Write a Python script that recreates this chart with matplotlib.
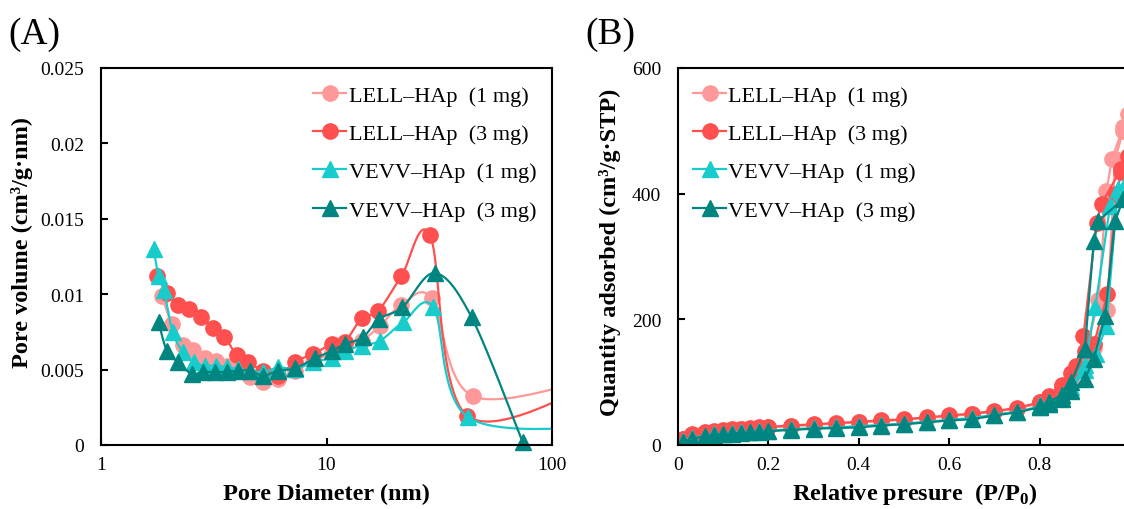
import numpy as np
import matplotlib
matplotlib.use('Agg')
import matplotlib.pyplot as plt
from matplotlib.lines import Line2D

plt.rcParams['font.family'] = ['Liberation Serif', 'DejaVu Serif']
plt.rcParams['mathtext.fontset'] = 'custom'
plt.rcParams['mathtext.rm'] = 'Liberation Serif'
plt.rcParams['mathtext.bf'] = 'Liberation Serif:bold'

names = ['LELL\u2013HAp  (1 mg)', 'LELL\u2013HAp  (3 mg)', 'VEVV\u2013HAp  (1 mg)', 'VEVV\u2013HAp  (3 mg)']
colors = ['#FF9999', '#FF4F4F', '#19CCCC', '#008580']
markers = ['o', 'o', '^', '^']

# (A) pore size distribution
d_l1 = [1.86, 2.06, 2.32, 2.57, 2.89, 3.24, 3.61, 4.06, 4.58, 5.24, 6.11, 7.25, 8.74, 10.55, 12.08, 14.3, 17.3, 21.5, 29.3, 44.8, 180]
v_l1 = [0.0099, 0.0080, 0.0066, 0.0063, 0.00575, 0.00555, 0.00526, 0.00493, 0.00449, 0.00416, 0.00438, 0.00493, 0.00552, 0.00615, 0.00659, 0.00692, 0.00791, 0.00928, 0.00973, 0.00323, 0.0047]
d_l3 = [1.77, 1.96, 2.2, 2.46, 2.77, 3.15, 3.52, 4.0, 4.5, 5.24, 6.11, 7.25, 8.74, 10.55, 12.08, 14.3, 16.98, 21.5, 28.8, 42.1, 180]
v_l3 = [0.0112, 0.0101, 0.0093, 0.0090, 0.00847, 0.00774, 0.00718, 0.00597, 0.00548, 0.00493, 0.0046, 0.00553, 0.00603, 0.0067, 0.00685, 0.0084, 0.0089, 0.0112, 0.0139, 0.00194, 0.0045]
d_v1 = [1.71, 1.8, 1.9, 2.08, 2.32, 2.58, 2.89, 3.24, 3.61, 4.06, 4.58, 5.24, 6.11, 7.25, 8.74, 10.55, 12.08, 14.3, 17.3, 21.9, 29.8, 42.5, 180]
v_v1 = [0.0130, 0.0112, 0.0103, 0.00747, 0.00615, 0.00548, 0.00526, 0.00526, 0.00515, 0.00504, 0.00493, 0.00482, 0.00515, 0.00504, 0.00552, 0.00575, 0.00625, 0.00659, 0.00692, 0.00814, 0.00913, 0.00184, 0.0012]
d_v3 = [1.8, 1.96, 2.2, 2.53, 2.84, 3.2, 3.61, 4.06, 4.58, 5.24, 6.11, 7.25, 8.89, 10.6, 12.08, 14.5, 17.1, 21.7, 30.3, 44.0, 74.1]
v_v3 = [0.00814, 0.00625, 0.00548, 0.00471, 0.00486, 0.00482, 0.00486, 0.00493, 0.00493, 0.0046, 0.00493, 0.00509, 0.00575, 0.00625, 0.0067, 0.00714, 0.00836, 0.00913, 0.0114, 0.00847, 0.0002]

# (B) N2 isotherms (adsorption then desorption)
p_l1 = [0.01, 0.03, 0.06, 0.08, 0.10, 0.12, 0.14, 0.16, 0.18, 0.20, 0.25, 0.30, 0.35, 0.40, 0.45, 0.50, 0.55, 0.60, 0.65, 0.70, 0.75, 0.80, 0.82, 0.85, 0.87, 0.90, 0.92, 0.95, 0.967, 0.985, 0.995,
        0.985, 0.96, 0.948, 0.93, 0.90, 0.87, 0.85, 0.82, 0.80]
q_l1 = [9, 16, 19, 21, 23, 24, 25, 26, 27, 28, 30, 32, 34, 36, 38, 40, 43, 46, 49, 53, 58, 66, 73, 88, 105, 130, 155, 215, 455, 500, 527,
        506, 455, 405, 230, 140, 100, 85, 72, 66]
p_l3 = [0.01, 0.03, 0.06, 0.08, 0.10, 0.12, 0.14, 0.16, 0.18, 0.20, 0.25, 0.30, 0.35, 0.40, 0.45, 0.50, 0.55, 0.60, 0.65, 0.70, 0.75, 0.80, 0.82, 0.85, 0.87, 0.90, 0.92, 0.95, 0.97, 0.981, 0.996,
        0.981, 0.937, 0.926, 0.897, 0.88, 0.85, 0.82, 0.80]
q_l3 = [10, 17, 20, 22, 24, 25, 26, 27, 28, 29, 31, 33, 35, 37, 39, 41, 44, 47, 50, 54, 59, 68, 76, 92, 115, 150, 160, 240, 400, 434, 460,
        440, 384, 354, 174, 125, 95, 78, 69]
p_v1 = [0.01, 0.03, 0.06, 0.08, 0.10, 0.12, 0.14, 0.16, 0.18, 0.20, 0.25, 0.30, 0.35, 0.40, 0.45, 0.50, 0.55, 0.60, 0.65, 0.70, 0.75, 0.80, 0.82, 0.85, 0.87, 0.90, 0.925, 0.948, 0.973, 0.99,
        0.956, 0.923, 0.90, 0.87, 0.85, 0.82, 0.80]
q_v1 = [6, 11, 15, 17, 18, 19, 20, 21, 22, 23, 25, 27, 28, 30, 32, 34, 37, 40, 43, 48, 53, 61, 66, 75, 88, 120, 145, 190, 407, 415,
        381, 219, 128, 92, 80, 68, 63]
p_v3 = [0.01, 0.03, 0.06, 0.08, 0.10, 0.12, 0.14, 0.16, 0.18, 0.20, 0.25, 0.30, 0.35, 0.40, 0.45, 0.50, 0.55, 0.60, 0.65, 0.70, 0.75, 0.80, 0.82, 0.85, 0.87, 0.90, 0.92, 0.945, 0.967, 0.985,
        0.93, 0.92, 0.90, 0.87, 0.85, 0.82, 0.80]
q_v3 = [5, 10, 14, 16, 17, 18, 19, 20, 21, 22, 24, 26, 27, 28, 31, 33, 36, 39, 41, 47, 52, 60, 65, 73, 86, 105, 137, 206, 357, 391,
        357, 325, 153, 100, 80, 68, 62]


def smooth(xs, ys, n=40):
    # excel-like smoothed line, done in log-x space
    pts = np.column_stack([np.log10(xs), ys])
    out = []
    for i in range(len(pts) - 1):
        p0 = pts[max(i - 1, 0)]
        p1 = pts[i]
        p2 = pts[i + 1]
        p3 = pts[min(i + 2, len(pts) - 1)]
        c1 = p1 + (p2 - p0) / 6
        c2 = p2 - (p3 - p1) / 6
        t = np.linspace(0, 1, n)[:, None]
        seg = (1 - t)**3 * p1 + 3 * (1 - t)**2 * t * c1 + 3 * (1 - t) * t**2 * c2 + t**3 * p2
        out.append(seg if i == 0 else seg[1:])
    s = np.vstack(out)
    return 10**s[:, 0], s[:, 1]


def style_axes(ax):
    for sp in ax.spines.values():
        sp.set_linewidth(1.5)
    ax.tick_params(direction='in', length=5, width=1.5, labelsize=14, which='major')
    ax.tick_params(which='minor', length=0)
    ax.tick_params(axis='y', pad=12)
    ax.tick_params(axis='x', pad=8)


fig = plt.figure(figsize=(11.24, 5.10), dpi=100)
axA = fig.add_axes([101 / 1124, 64 / 510, 451 / 1124, 377 / 510])
axB = fig.add_axes([678 / 1124, 64 / 510, 452 / 1124, 377 / 510])

MS = 11
handles = []
seriesA = [(d_l1, v_l1), (d_l3, v_l3), (d_v1, v_v1), (d_v3, v_v3)]
for (d, v), c, m in zip(seriesA, colors, markers):
    sx, sy = smooth(d, v)
    axA.plot(sx, sy, color=c, lw=1.6)
    d = np.array(d); v = np.array(v)
    keep = d <= 100
    axA.plot(d[keep], v[keep], ls='none', marker=m, ms=MS, color=c, clip_on=False)
    handles.append(Line2D([], [], color=c, lw=1.6, marker=m, ms=MS))

axA.set_xscale('log')
axA.set_xlim(1, 100)
axA.set_ylim(0, 0.025)
axA.set_xticks([1, 10, 100])
axA.set_xticklabels(['1', '10', '100'])
axA.set_yticks([0, 0.005, 0.01, 0.015, 0.02, 0.025])
axA.set_yticklabels(['0', '0.005', '0.01', '0.015', '0.02', '0.025'])
style_axes(axA)
axA.set_xlabel('Pore Diameter (nm)', fontsize=17.5, fontweight='bold')
axA.set_ylabel('Pore volume (cm\u00b3/g\u00b7nm)', fontsize=17.5, fontweight='bold')
axA.xaxis.set_label_coords(0.5, -0.1)
axA.yaxis.set_label_coords(-0.15, 0.54)
axA.legend(handles, names, loc='upper left', bbox_to_anchor=(0.47, 0.955), frameon=False,
           fontsize=16, handlelength=1.5, labelspacing=0.8, handletextpad=0.1,
           borderaxespad=0, borderpad=0)

seriesB = [(p_l1, q_l1), (p_l3, q_l3), (p_v1, q_v1), (p_v3, q_v3)]
for (p, q), c, m in zip(seriesB, colors, markers):
    axB.plot(p, q, color=c, lw=1.6, marker=m, ms=MS)

axB.set_xlim(0, 1.0)
axB.set_ylim(0, 600)
axB.set_xticks([0, 0.2, 0.4, 0.6, 0.8])
axB.set_xticklabels(['0', '0.2', '0.4', '0.6', '0.8'])
axB.set_yticks([0, 200, 400, 600])
style_axes(axB)
axB.set_xlabel('Relative presure  (P/P$_{\\mathbf{0}}$)', fontsize=17.5, fontweight='bold')
axB.set_ylabel('Quantity adsorbed (cm\u00b3/g\u00b7STP)', fontsize=17.5, fontweight='bold')
axB.xaxis.set_label_coords(0.524, -0.092)
axB.yaxis.set_label_coords(-0.127, 0.515)
axB.legend(handles, names, loc='upper left', bbox_to_anchor=(0.033, 0.955), frameon=False,
           fontsize=16, handlelength=1.5, labelspacing=0.8, handletextpad=0.1,
           borderaxespad=0, borderpad=0)

fig.text(8 / 1124, 1 - 35 / 510, '(A)', fontsize=27, va='center', ha='left')
fig.text(585 / 1124, 1 - 35 / 510, '(B)', fontsize=27, va='center', ha='left')

fig.savefig('out.png', dpi=100)
